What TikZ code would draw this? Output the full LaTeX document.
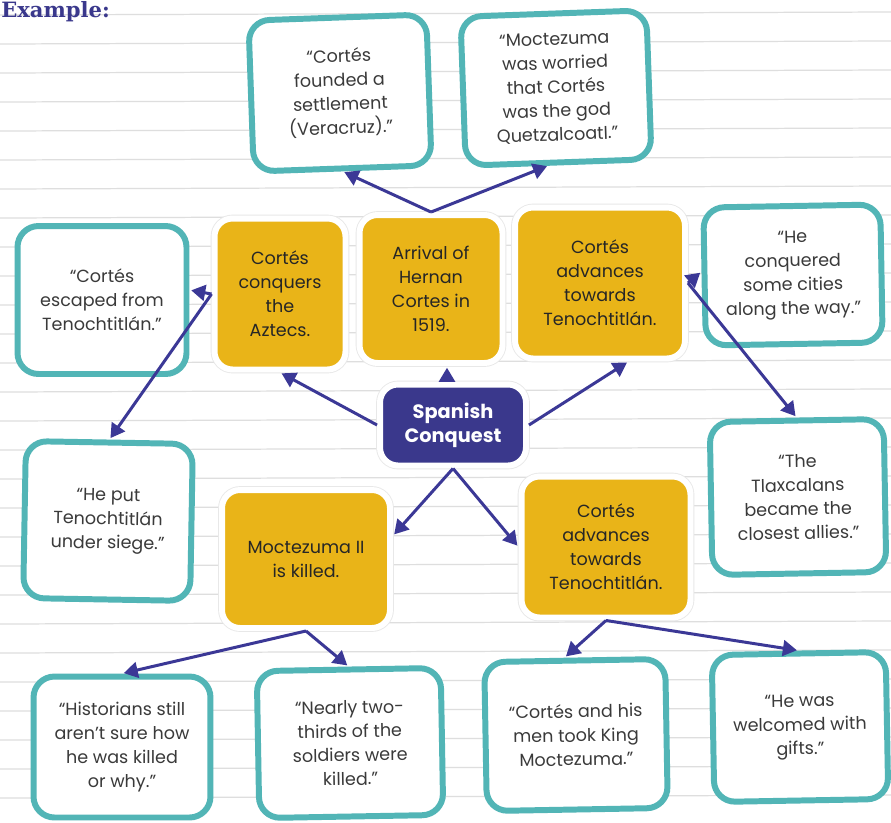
\documentclass[tikz,border=0pt]{standalone}
\usepackage{fontspec}
\setmainfont{Poppins}
\newfontfamily\headfont{DejaVu Serif}
\usetikzlibrary{arrows.meta,positioning,calc}

\definecolor{boxteal}{HTML}{52B5B6}
\definecolor{gold}{HTML}{E9B418}
\definecolor{navy}{HTML}{3A388C}
\definecolor{arrowblue}{HTML}{3B3896}
\definecolor{inkgray}{HTML}{3A3A3A}
\definecolor{ruleline}{HTML}{DEDEDE}

\tikzset{
    quote/.style={draw=boxteal, line width=3.4pt, fill=white, rounded corners=0.42cm,
        align=center, text=inkgray, inner sep=0pt,
        font=\fontsize{10}{13.6}\selectfont},
    event/.style={preaction={draw=black!9, line width=4.4pt}, draw=white, line width=3.4pt,
        fill=gold, rounded corners=0.36cm, align=center, text=black!85, inner sep=0pt,
        font=\fontsize{10}{13.6}\selectfont},
    topic/.style={event, fill=navy, text=white, font=\fontsize{11}{13.6}\bfseries\selectfont},
    link/.style={arrowblue, line width=1.7pt, -{Triangle[length=8pt,width=9pt]}, shorten >=1pt}
}

\begin{document}
\begin{tikzpicture}[x=0.02cm, y=-0.02cm]
    \useasboundingbox (0,0) rectangle (891,822);
    \clip (0,0) rectangle (891,822);
    \fill[white] (0,0) rectangle (891,822);

    % Lined paper
    \foreach \y in {15,44,...,822} {
        \draw[ruleline, line width=0.7pt] (0,\y) -- (891,\y-3);
    }
    \node[font=\headfont\bfseries\fontsize{12}{14}\selectfont, text=navy, anchor=base west, inner sep=0pt] (example) at (1,17) {Example:};

    % Centre
    \node[topic, minimum width=2.92cm, minimum height=1.62cm] (spain) at (453,425) {Spanish\\Conquest};

    % Events
    \node[event, minimum width=2.62cm, minimum height=3.02cm] (conq) at (280,294) {Cortés\\conquers\\the\\Aztecs.};
    \node[event, minimum width=2.86cm, minimum height=2.96cm] (arrival) at (431,289) {Arrival of\\Hernan\\Cortes in\\1519.};
    \node[event, minimum width=3.4cm, minimum height=3.02cm] (adv) at (600,283) {Cortés\\advances\\towards\\Tenochtitlán.};
    \node[event, minimum width=3.36cm, minimum height=2.76cm] (killed) at (306,559) {Moctezuma II\\is killed.};
    \node[event, minimum width=3.38cm, minimum height=2.82cm] (adv2) at (606,547) {Cortés\\advances\\towards\\Tenochtitlán.};

    % Details
    \node[quote, rotate=2, minimum width=3.56cm, minimum height=3.02cm] (founded) at (340,93) {“Cortés\\founded a\\settlement\\(Veracruz).”};
    \node[quote, rotate=2, minimum width=3.72cm, minimum height=2.98cm] (worried) at (556,88) {“Moctezuma\\was worried\\that Cortés\\was the god\\Quetzalcoatl.”};
    \node[quote, minimum width=3.38cm, minimum height=2.96cm] (escaped) at (102,300) {“Cortés\\escaped from\\Tenochtitlán.”};
    \node[quote, rotate=-1, minimum width=3.34cm, minimum height=3.14cm] (siege) at (108,521) {“He put\\Tenochtitlán\\under siege.”};
    \node[quote, rotate=1, minimum width=3.54cm, minimum height=2.76cm] (cities) at (793,275) {“He\\conquered\\some cities\\along the way.”};
    \node[quote, rotate=1, minimum width=3.48cm, minimum height=3.06cm] (tlax) at (798,497) {“The\\Tlaxcalans\\became the\\closest allies.”};
    \node[quote, minimum width=3.54cm, minimum height=2.82cm] (hist) at (122,747) {“Historians still\\aren't sure how\\he was killed\\or why.”};
    \node[quote, rotate=1, minimum width=3.68cm, minimum height=2.94cm] (nearly) at (350,743) {“Nearly two-\\thirds of the\\soldiers were\\killed.”};
    \node[quote, rotate=1, minimum width=3.62cm, minimum height=2.98cm] (took) at (576,735) {“Cortés and his\\men took King\\Moctezuma.”};
    \node[quote, rotate=1, minimum width=3.48cm, minimum height=2.94cm] (gifts) at (800,727) {“He was\\welcomed with\\gifts.”};

    % Arrows from the centre
    \draw[link] (spain.west) -- (conq.south);
    \draw[link] ($(spain.north)+(-6,0)$) -- ($(spain.north |- arrival.south)+(-6,0)$);
    \draw[link] (spain.east) -- (adv.-70);
    \draw[link] (spain.south) -- (killed.15);
    \draw[link] (spain.south) -- (adv2.west);

    % Arrows to the details
    \draw[link] (arrival.north) -- (founded.south);
    \draw[link] (arrival.north) -- ($(worried.south)+(-10,0)$);
    \draw[link] (conq.west) -- ($(escaped.east)+(0,-10)$);
    \draw[link] (conq.west) -- (siege.north);
    \draw[link] (adv.east) -- ($(cities.west)+(0,-5)$);
    \draw[link] (adv.east) -- (tlax.north);
    \draw[link] (killed.south) -- (hist.north);
    \draw[link] (killed.south) -- (nearly.north);
    \draw[link] (adv2.south) -- ($(took.north)+(-10,0)$);
    \draw[link] (adv2.south) -- (gifts.north);
\end{tikzpicture}
\end{document}
